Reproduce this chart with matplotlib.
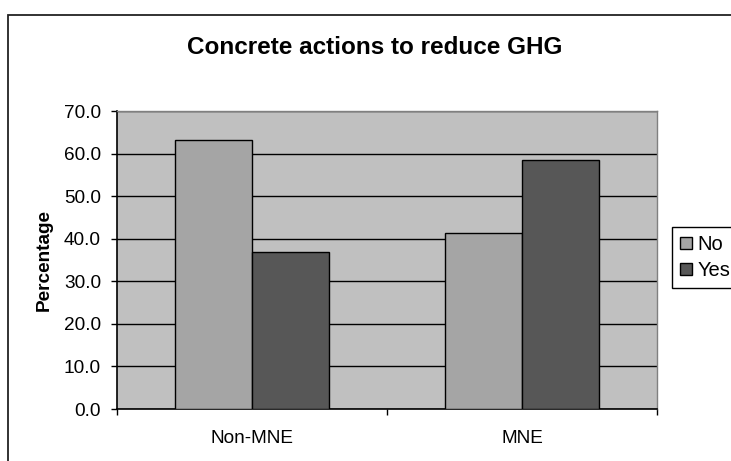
import numpy as np
import matplotlib
matplotlib.use("Agg")
import matplotlib.pyplot as plt
from matplotlib.patches import Rectangle

plt.rcParams['font.family'] = ['Liberation Sans', 'DejaVu Sans']

groups = ['Non-MNE', 'MNE']
series = ['No', 'Yes']
no_vals = [63.2, 41.4]
yes_vals = [36.8, 58.6]
yticks = [0, 10, 20, 30, 40, 50, 60, 70]

fig = plt.figure(figsize=(7.31, 4.61), dpi=100)
W, H = 731, 461

# outer chart frame (runs past the right and bottom edges)
fig.patches.append(Rectangle((8 / W, -0.1), 1.2, 1 - 15 / H + 0.1, transform=fig.transFigure,
                             fill=False, edgecolor='#222222', linewidth=1.3, clip_on=False))

ax = fig.add_axes([117 / W, 1 - 409 / H, (657 - 117) / W, (409 - 111) / H])
ax.set_facecolor('#C0C0C0')

x = np.arange(len(groups))
w = 0.285
ax.bar(x - w / 2, no_vals, w, color='#A5A5A5', edgecolor='black', linewidth=1, label=series[0], zorder=3)
ax.bar(x + w / 2, yes_vals, w, color='#575757', edgecolor='black', linewidth=1, label=series[1], zorder=3)

ax.set_xlim(-0.5, 1.5)
ax.set_ylim(0, 70)
ax.set_yticks(yticks)
ax.set_yticklabels(['%.1f' % v for v in yticks], fontsize=13.7)
ax.yaxis.grid(True, color='black', linewidth=1, zorder=1)
ax.set_axisbelow(True)

ax.set_xticks([-0.5, 0.5, 1.5])
ax.set_xticklabels([])
ax.set_xticks(x, minor=True)
ax.set_xticklabels(groups, minor=True, fontsize=13.7)
ax.tick_params(axis='x', which='minor', length=0, pad=15)
ax.tick_params(axis='both', which='major', length=4.5, width=1, direction='out', color='black')
ax.tick_params(axis='y', pad=7)

for side in ['left', 'bottom']:
    ax.spines[side].set_color('black')
    ax.spines[side].set_linewidth(1.2)
for side in ['right', 'top']:
    ax.spines[side].set_color('#808080')
    ax.spines[side].set_linewidth(1)

ax.set_ylabel('Percentage', fontsize=13.7, fontweight='bold', labelpad=8)
fig.text(375 / W, 1 - 47 / H, 'Concrete actions to reduce GHG', fontsize=17.5,
         fontweight='bold', ha='center', va='center')

# legend sits at the right edge and is partly cut off
leg = ax.legend(loc='upper left', bbox_to_anchor=(672 / W, 1 - 227 / H), bbox_transform=fig.transFigure,
                fontsize=14.5, frameon=True, fancybox=False, edgecolor='black', framealpha=1,
                handlelength=0.6, handleheight=0.6, handletextpad=0.25, borderpad=0.4,
                labelspacing=0.35, borderaxespad=0)
leg.get_frame().set_linewidth(1)

fig.savefig('out.png', dpi=100)
